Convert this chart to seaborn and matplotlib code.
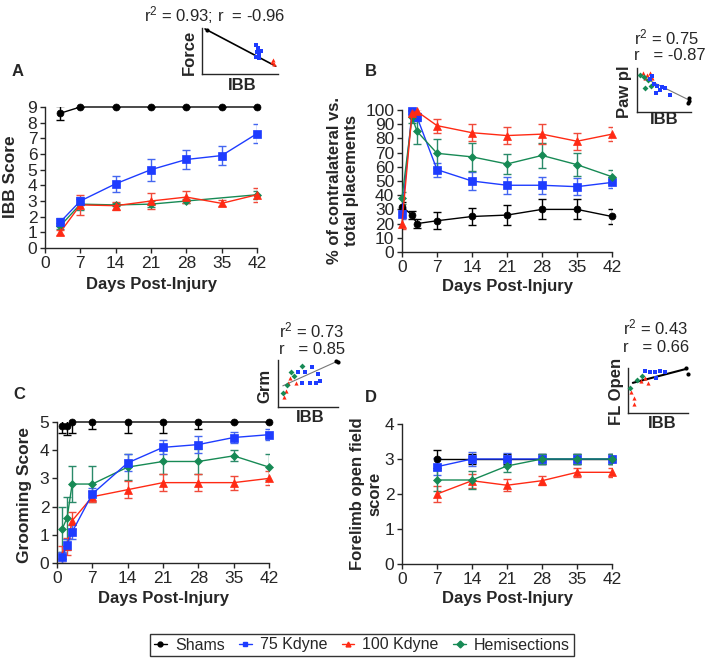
import matplotlib
matplotlib.use("Agg")
import matplotlib.pyplot as plt
import seaborn as sns
from matplotlib.lines import Line2D

# ---------------- data ----------------
groups = ["Shams", "75 Kdyne", "100 Kdyne", "Hemisections"]

# Panel A - IBB score
a_days = [3, 7, 14, 21, 28, 35, 42]
a_hemi_days = [3, 7, 14, 21, 28, 42]
a_sham = [8.6, 9, 9, 9, 9, 9, 9]
a_sham_err = [0.45, 0, 0, 0, 0, 0, 0]
a_75 = [1.65, 3.0, 4.1, 5.0, 5.65, 5.9, 7.3]
a_75_err = [0.25, 0.25, 0.5, 0.7, 0.6, 0.6, 0.6]
a_100 = [1.0, 2.75, 2.7, 3.0, 3.25, 2.85, 3.4]
a_100_err = [0.15, 0.65, 0.25, 0.5, 0.4, 0.2, 0.45]
a_hemi = [1.4, 2.8, 2.75, 2.8, 3.0, 3.4]
a_hemi_err = [0.2, 0.35, 0.1, 0.2, 0.15, 0.25]

# Panel B - % contralateral placements
b_days = [0, 2, 3, 7, 14, 21, 28, 35, 42]
b_sham = [32, 26, 20, 22, 25, 26, 30, 30, 25]
b_sham_err = [3, 3, 3, 6, 6, 7, 7, 7, 5]
b_75 = [27, 99, 95, 58, 50, 47, 47, 46, 49]
b_75_err = [4, 2, 3, 5, 6, 6, 6, 6, 4]
b_100 = [20, 98, 99, 89, 84, 82, 83, 78, 83]
b_100_err = [4, 2, 2, 5, 6, 6, 7, 6, 5]
b_hemi = [38, 95, 85, 69.5, 67, 62, 68, 61.5, 53]
b_hemi_err = [4, 4, 9, 10, 10, 7, 9, 8, 5]

# Panel C - grooming score
c_days = [1, 2, 3, 7, 14, 21, 28, 35, 42]
c_sham = [4.85, 4.85, 5, 5, 5, 5, 5, 5, 5]
c_sham_err = [0.25, 0.3, 0.4, 0.25, 0.4, 0.4, 0.25, 0.0, 0.0]
c_75 = [0.2, 0.65, 1.1, 2.45, 3.55, 4.1, 4.2, 4.45, 4.55]
c_75_err = [0.2, 0.2, 0.25, 0.2, 0.3, 0.25, 0.3, 0.2, 0.2]
c_100 = [0.3, 0.6, 1.5, 2.35, 2.6, 2.85, 2.85, 2.85, 3.0]
c_100_err = [0.3, 0.3, 0.3, 0.2, 0.3, 0.3, 0.3, 0.25, 0.25]
c_hemi = [1.2, 1.6, 2.8, 2.8, 3.4, 3.6, 3.6, 3.8, 3.4]
c_hemi_err = [0.8, 0.75, 0.65, 0.65, 0.45, 0.45, 0.45, 0.2, 0.45]

# Panel D - forelimb open field score
d_days = [7, 14, 21, 28, 35, 42]
d_sham = [3, 3, 3, 3, 3, 3]
d_sham_err = [0.25, 0.15, 0.15, 0.15, 0.15, 0.15]
d_75 = [2.78, 3, 3, 3, 3, 3]
d_75_err = [0.25, 0.2, 0.18, 0.15, 0.15, 0.15]
d_100 = [2.0, 2.38, 2.25, 2.38, 2.62, 2.62]
d_100_err = [0.22, 0.2, 0.17, 0.13, 0.13, 0.13]
d_hemi = [2.4, 2.4, 2.8, 3, 3, 3]
d_hemi_err = [0.3, 0.25, 0.18, 0.15, 0.15, 0.15]

x_ticks = [0, 7, 14, 21, 28, 35, 42]

# Inset correlation scatter (normalised positions)
ia_sham_x, ia_sham_y = [0.07], [0.96]
ia_75_x = [0.71, 0.74, 0.72, 0.75, 0.78, 0.71, 0.75]
ia_75_y = [0.63, 0.57, 0.48, 0.43, 0.50, 0.37, 0.35]
ia_100_x = [0.92, 0.95, 0.93]
ia_100_y = [0.26, 0.22, 0.30]
ia_line_x, ia_line_y = [0.04, 0.97], [0.98, 0.17]

ib_sham_x, ib_sham_y = [0.96, 0.96, 0.94], [0.32, 0.25, 0.20]
ib_75_x = [0.24, 0.31, 0.37, 0.43, 0.46, 0.35, 0.52, 0.61, 0.28]
ib_75_y = [0.75, 0.64, 0.59, 0.50, 0.57, 0.43, 0.55, 0.39, 0.82]
ib_100_x = [0.11, 0.15, 0.24, 0.19, 0.28]
ib_100_y = [0.89, 0.77, 0.89, 0.84, 0.77]
ib_hemi_x = [0.06, 0.13, 0.20, 0.15, 0.26]
ib_hemi_y = [0.84, 0.80, 0.73, 0.55, 0.59]
ib_line_x, ib_line_y = [0.06, 1.0], [0.82, 0.25]

ic_sham_x, ic_sham_y = [0.97, 1.0], [0.98, 0.96]
ic_75_x = [0.33, 0.45, 0.57, 0.67, 0.53, 0.63, 0.40, 0.70]
ic_75_y = [0.74, 0.74, 0.85, 0.70, 0.51, 0.51, 0.51, 0.55]
ic_100_x = [0.10, 0.17, 0.20, 0.13, 0.30]
ic_100_y = [0.21, 0.51, 0.62, 0.34, 0.51]
ic_hemi_x = [0.08, 0.22, 0.40, 0.27, 0.15]
ic_hemi_y = [0.30, 0.74, 0.87, 0.66, 0.47]
ic_line_x, ic_line_y = [0.08, 1.0], [0.45, 0.98]

id_sham_x, id_sham_y = [0.97, 1.0], [1.0, 0.87]
id_75_x = [0.28, 0.37, 0.45, 0.53, 0.62, 0.47]
id_75_y = [0.93, 0.91, 0.91, 0.93, 0.91, 0.78]
id_100_x = [0.05, 0.10, 0.22, 0.28, 0.33, 0.10]
id_100_y = [0.47, 0.33, 0.71, 0.78, 0.67, 0.20]
id_hemi_x = [0.03, 0.15, 0.23]
id_hemi_y = [0.56, 0.73, 0.82]
id_line_x, id_line_y = [0.08, 0.97], [0.67, 0.98]

# ---------------- style ----------------
sns.set_style("ticks")
plt.rcParams["font.family"] = ["Liberation Sans", "DejaVu Sans"]
plt.rcParams["mathtext.fontset"] = "custom"
plt.rcParams["mathtext.rm"] = "Liberation Sans"
plt.rcParams["mathtext.it"] = "Liberation Sans:italic"
plt.rcParams["axes.linewidth"] = 1.0

colors = {"Shams": "#000000", "75 Kdyne": "#1e3cff", "100 Kdyne": "#ff2a14",
          "Hemisections": "#178a55"}
ecolors = {"Shams": "#000000", "75 Kdyne": "#4466f0", "100 Kdyne": "#f04a3a",
           "Hemisections": "#2a8a6a"}
markers = {"Shams": "o", "75 Kdyne": "s", "100 Kdyne": "^", "Hemisections": "D"}
msizes = {"Shams": 5, "75 Kdyne": 5.5, "100 Kdyne": 6, "Hemisections": 4.5}

W, H = 708, 661
fig = plt.figure(figsize=(W / 100, H / 100), dpi=100)


def rect(l, r, t, b):
    return [l / W, 1 - b / H, (r - l) / W, (b - t) / H]


def fx(p):
    return p / W


def fy(p):
    return 1 - p / H


TICK_FS = 12.5
LAB_FS = 12


def main_panel(box, series, ylim, yticks, xlim=(0, 42)):
    ax = fig.add_axes(box)
    for name, days, vals, errs in series:
        ax.errorbar(days, vals, yerr=errs, fmt="none", ecolor=ecolors[name],
                    elinewidth=1, capsize=3, capthick=1, zorder=2)
    for name, days, vals, errs in series:
        sns.lineplot(x=days, y=vals, ax=ax, color=colors[name], marker=markers[name],
                     markersize=msizes[name], markeredgecolor=colors[name],
                     markeredgewidth=0.5, linewidth=1, clip_on=False, zorder=3)
    ax.set_xlim(*xlim)
    ax.set_ylim(*ylim)
    ax.set_xticks(x_ticks)
    ax.set_yticks(yticks)
    ax.tick_params(labelsize=TICK_FS, length=3.5, width=1, pad=2)
    sns.despine(ax=ax)
    ax.set_xlabel("")
    ax.set_ylabel("")
    return ax


axA = main_panel(rect(45, 257, 107, 248), [
    ("Hemisections", a_hemi_days, a_hemi, a_hemi_err),
    ("100 Kdyne", a_days, a_100, a_100_err),
    ("75 Kdyne", a_days, a_75, a_75_err),
    ("Shams", a_days, a_sham, a_sham_err),
], (0, 9), range(0, 10))

axB = main_panel(rect(402, 612, 110, 252), [
    ("Shams", b_days, b_sham, b_sham_err),
    ("75 Kdyne", b_days, b_75, b_75_err),
    ("Hemisections", b_days, b_hemi, b_hemi_err),
    ("100 Kdyne", b_days, b_100, b_100_err),
], (0, 100), range(0, 101, 10))

axC = main_panel(rect(57, 269, 422, 563), [
    ("Shams", c_days, c_sham, c_sham_err),
    ("Hemisections", c_days, c_hemi, c_hemi_err),
    ("100 Kdyne", c_days, c_100, c_100_err),
    ("75 Kdyne", c_days, c_75, c_75_err),
], (0, 5), range(0, 6))

axD = main_panel(rect(402, 612, 424, 564), [
    ("Shams", d_days, d_sham, d_sham_err),
    ("100 Kdyne", d_days, d_100, d_100_err),
    ("75 Kdyne", d_days, d_75, d_75_err),
    ("Hemisections", d_days, d_hemi, d_hemi_err),
], (0, 4), range(0, 5))

# axis labels
bold = dict(fontsize=LAB_FS, fontweight="bold")
fig.text(fx(151), fy(285), "Days Post-Injury", ha="center", va="center", **bold)
fig.text(fx(507), fy(287), "Days Post-Injury", ha="center", va="center", **bold)
fig.text(fx(163), fy(599), "Days Post-Injury", ha="center", va="center", **bold)
fig.text(fx(507), fy(598), "Days Post-Injury", ha="center", va="center", **bold)
fig.text(fx(11), fy(177), "IBB Score", rotation=90, ha="center", va="center",
         fontsize=12.5, fontweight="bold")
fig.text(fx(343), fy(180), "% of contralateral vs.\ntotal placements", rotation=90,
         ha="center", va="center", multialignment="center", **bold)
fig.text(fx(25), fy(495), "Grooming Score", rotation=90, ha="center", va="center",
         fontsize=12.5, fontweight="bold")
fig.text(fx(366), fy(494), "Forelimb open field\nscore", rotation=90,
         ha="center", va="center", multialignment="center", **bold)

# panel letters
for lab, x, y in [("A", 18, 72), ("B", 371, 72), ("C", 19, 395), ("D", 371, 397)]:
    fig.text(fx(x), fy(y), lab, ha="center", va="center", fontsize=12, fontweight="bold")


# ---------------- insets ----------------
def inset(box, pts, line_x, line_y, line_color, line_w, ylab, ylab_pos, xlab_pos):
    ax = fig.add_axes(box)
    for name, xs, ys in pts:
        sns.scatterplot(x=xs, y=ys, ax=ax, color=colors[name], marker=markers[name],
                        s=9, linewidth=0, clip_on=False, zorder=3)
    ax.plot(line_x, line_y, color=line_color, lw=line_w, zorder=2, clip_on=False)
    ax.set_xlim(0, 1)
    ax.set_ylim(0, 1)
    ax.set_xticks([])
    ax.set_yticks([])
    ax.set_xlabel("")
    ax.set_ylabel("")
    for s in ["top", "right"]:
        ax.spines[s].set_visible(False)
    fig.text(fx(ylab_pos[0]), fy(ylab_pos[1]), ylab, rotation=90, ha="center",
             va="center", fontsize=12, fontweight="bold")
    fig.text(fx(xlab_pos[0]), fy(xlab_pos[1]), "IBB", ha="center", va="center",
             fontsize=12, fontweight="bold")
    return ax


inset(rect(202, 278, 28, 74),
      [("Shams", ia_sham_x, ia_sham_y), ("75 Kdyne", ia_75_x, ia_75_y),
       ("100 Kdyne", ia_100_x, ia_100_y)],
      ia_line_x, ia_line_y, "black", 1.2, "Force", (189, 52), (242, 86))
inset(rect(637, 691, 68, 112),
      [("100 Kdyne", ib_100_x, ib_100_y), ("Hemisections", ib_hemi_x, ib_hemi_y),
       ("75 Kdyne", ib_75_x, ib_75_y), ("Shams", ib_sham_x, ib_sham_y)],
      ib_line_x, ib_line_y, "#777777", 0.8, "Paw pl", (625, 92), (664, 120))
inset(rect(278, 338, 360, 407),
      [("100 Kdyne", ic_100_x, ic_100_y), ("Hemisections", ic_hemi_x, ic_hemi_y),
       ("75 Kdyne", ic_75_x, ic_75_y), ("Shams", ic_sham_x, ic_sham_y)],
      ic_line_x, ic_line_y, "#777777", 0.8, "Grm", (265, 386), (310, 418))
inset(rect(628, 688, 368, 413),
      [("100 Kdyne", id_100_x, id_100_y), ("Hemisections", id_hemi_x, id_hemi_y),
       ("75 Kdyne", id_75_x, id_75_y), ("Shams", id_sham_x, id_sham_y)],
      id_line_x, id_line_y, "black", 1.5, "FL Open", (617, 391), (662, 424))

# correlation texts
fig.text(fx(215), fy(15), r"r$^2$ = 0.93; r  = -0.96", ha="center", va="center", fontsize=12)
for (x, y1, y2, t1, t2) in [(634, 37, 56, "0.75", "-0.87"),
                            (279, 330, 349, "0.73", "0.85"),
                            (623, 327, 347, "0.43", "0.66")]:
    fig.text(fx(x), fy(y1), r"r$^2$ = " + t1, ha="left", va="center", fontsize=12)
    fig.text(fx(x), fy(y2), "r   = " + t2, ha="left", va="center", fontsize=12)

# ---------------- legend ----------------
handles = [Line2D([0], [0], color=colors[g], marker=markers[g], markersize=3.5,
                  lw=1, markeredgecolor=colors[g]) for g in groups]
leg = fig.legend(handles, groups, loc="center", bbox_to_anchor=(fx(362), fy(645)),
                 ncol=4, fontsize=11.5, frameon=True, fancybox=False,
                 handlelength=0.8, handletextpad=0.5, columnspacing=0.9,
                 borderpad=0.25, borderaxespad=0, edgecolor="black")
leg.get_frame().set_linewidth(1.0)

fig.savefig("out.png", dpi=100)
